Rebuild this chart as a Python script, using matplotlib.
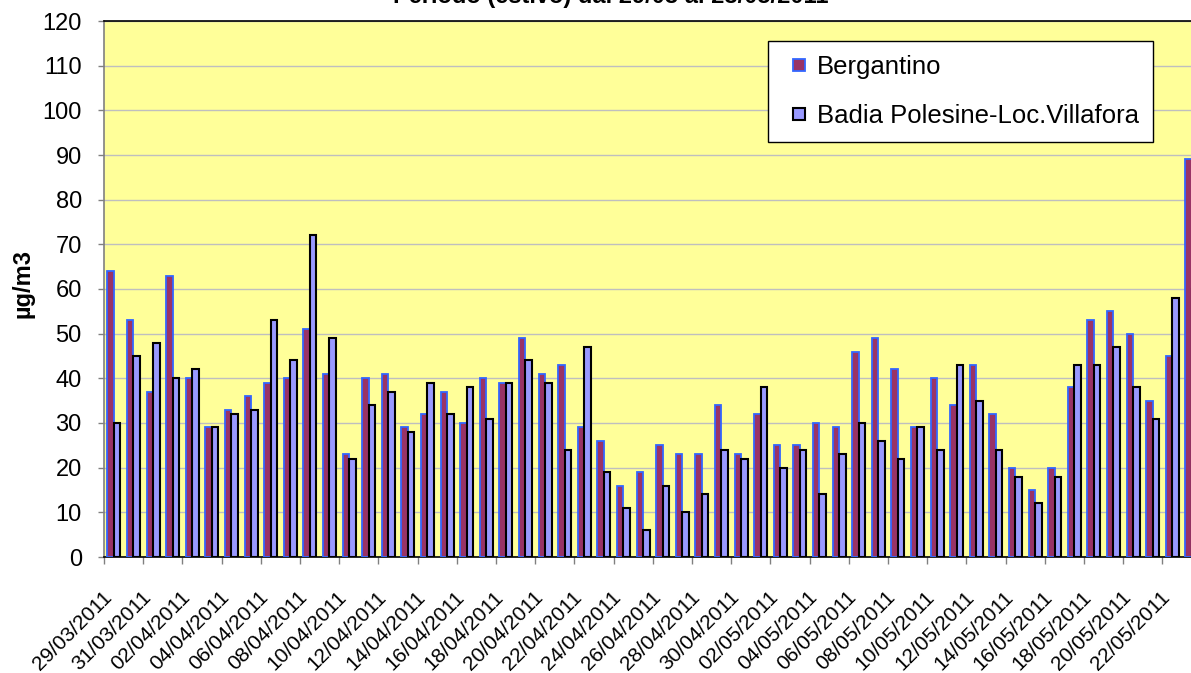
import matplotlib
matplotlib.use("Agg")
import matplotlib.pyplot as plt
from matplotlib.lines import Line2D
import matplotlib.transforms as mtransforms
import numpy as np
import pandas as pd

plt.rcParams['font.family'] = ['Liberation Sans', 'DejaVu Sans']

title = "Periodo (estivo) dal 29/03 al 23/05/2011"
ylabel = "µg/m3"
series_names = ["Bergantino", "Badia Polesine-Loc.Villafora"]

dates = pd.date_range("2011-03-29", "2011-05-23", freq="D").strftime("%d/%m/%Y").tolist()

bergantino = [64, 53, 37, 63, 40, 29, 33, 36, 39, 40,
              51, 41, 23, 40, 41, 29, 32, 37, 30, 40,
              39, 49, 41, 43, 29, 26, 16, 19, 25, 23,
              23, 34, 23, 32, 25, 25, 30, 29, 46, 49,
              42, 29, 40, 34, 43, 32, 20, 15, 20, 38,
              53, 55, 50, 35, 45, 89]
badia = [30, 45, 48, 40, 42, 29, 32, 33, 53, 44,
         72, 49, 22, 34, 37, 28, 39, 32, 38, 31,
         39, 44, 39, 24, 47, 19, 11, 6, 16, 10,
         14, 24, 22, 38, 20, 24, 14, 23, 30, 26,
         22, 29, 24, 43, 35, 24, 18, 12, 18, 43,
         43, 47, 38, 31, 58, 60]

W, H = 1191, 673
fig = plt.figure(figsize=(W / 100, H / 100), dpi=100)
fig.patch.set_facecolor("white")

n = len(dates)
day_px = 19.6
left_px, top_px, bottom_px = 104, 21, 557
ax = fig.add_axes([left_px / W, 1 - bottom_px / H, n * day_px / W, (bottom_px - top_px) / H])
ax.set_facecolor("#FFFF99")

x = np.arange(n)
bw = 0.33
ax.bar(x + 0.34, bergantino, width=bw, color="#993366", edgecolor="#3366FF", linewidth=1.3, zorder=3)
ax.bar(x + 0.67, badia, width=bw, color="#9999FF", edgecolor="black", linewidth=1.5, zorder=3)

ax.set_xlim(0, n)
ax.set_ylim(0, 120)
ax.set_yticks(range(0, 121, 10))
ax.yaxis.grid(True, color="#BFBFBF", linewidth=1.0, zorder=0)
ax.set_axisbelow(True)

ax.set_xticks(x[::2])
ax.set_xticklabels(dates[::2], rotation=45, ha="right", va="top", rotation_mode="anchor", fontsize=15)
ax.tick_params(axis="x", length=5, color="#808080", width=1, pad=17)
ax.tick_params(axis="y", length=4, color="#808080", width=1, pad=12, labelsize=17)
shift = mtransforms.ScaledTranslation(-2 / 100, 0, fig.dpi_scale_trans)
for lbl in ax.get_xticklabels():
    lbl.set_transform(lbl.get_transform() + shift)

for s in ["top", "right", "bottom"]:
    ax.spines[s].set_color("black")
    ax.spines[s].set_linewidth(1.2)
ax.spines["left"].set_color("#808080")
ax.spines["left"].set_linewidth(1.2)

fig.text(611 / W, 1 - 3.5 / H, title, ha="center", va="baseline", fontsize=17, fontweight="bold")
fig.text(23 / W, 1 - 283 / H, ylabel, ha="center", va="center", rotation=90, fontsize=17, fontweight="bold")

handles = [Line2D([], [], linestyle="none", marker="s", markersize=8.6,
                  markerfacecolor="#993366", markeredgecolor="#3366FF", markeredgewidth=1.3),
           Line2D([], [], linestyle="none", marker="s", markersize=8.6,
                  markerfacecolor="#9999FF", markeredgecolor="black", markeredgewidth=1.5)]
leg = fig.legend(handles, series_names, loc="upper left",
                 bbox_to_anchor=(768 / W, 1 - 41 / H), fontsize=18.5,
                 handlelength=1.32, handletextpad=0.05,
                 labelspacing=0.98, borderpad=0.55, borderaxespad=0,
                 fancybox=False, framealpha=1, edgecolor="black")
leg.get_frame().set_linewidth(1.0)

fig.savefig("out.png", dpi=100)
